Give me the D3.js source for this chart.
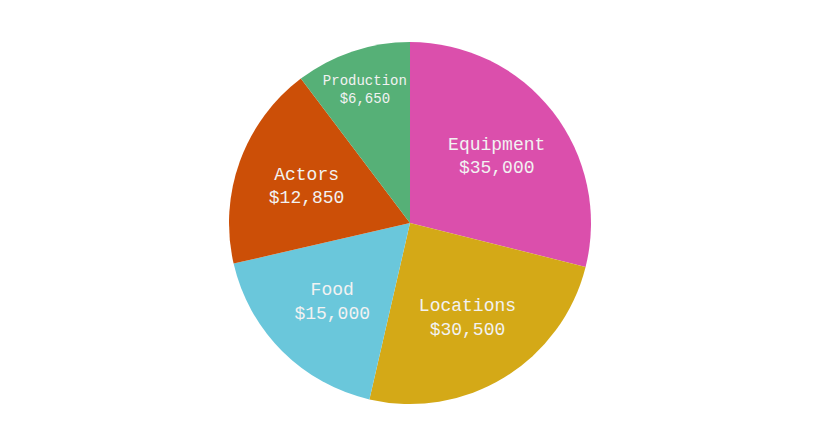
<!DOCTYPE html>
<html><head><meta charset="utf-8">
<script src="https://cdn.jsdelivr.net/npm/d3@7"></script>
<style>body{margin:0;background:#fff}</style></head>
<body><svg width="820" height="446"></svg>
<script>
const categories = ["Equipment","Locations","Food","Actors","Production"];
const amountLabels = ["$35,000","$30,500","$15,000","$12,850","$6,650"];
// slice shares as drawn in the picture (percent of circle)
const shares = [28.9, 24.7, 17.8, 18.3, 10.3];
const colors = ["#db4fac","#d4a917","#6ac7db","#cc4f07","#56b077"];

const svg = d3.select("svg");
const g = svg.append("g").attr("transform","translate(410,223)");
const R = 181;
const pie = d3.pie().sort(null).value(d=>d.v);
const data = pie(categories.map((c,i)=>({c,v:shares[i],l:amountLabels[i],col:colors[i]})));
const arc = d3.arc().innerRadius(0).outerRadius(R);
g.selectAll("path").data(data).join("path").attr("d",arc).attr("fill",d=>d.data.col);
const labels = g.selectAll("text").data(data).join("text")
  .attr("transform",(d,i)=>{
    const r = i===4?142:110;
    const a=(d.startAngle+d.endAngle)/2;
    return `translate(${r*Math.sin(a)},${-r*Math.cos(a)})`;})
  .attr("text-anchor","middle")
  .attr("fill","#f2f2f2")
  .attr("font-family","'Liberation Mono', monospace")
  .attr("font-size",(d,i)=>i===4?14:18);
labels.append("tspan").attr("x",0).attr("dy",(d,i)=>i===4?"-0.25em":"-0.3em").text(d=>d.data.c);
labels.append("tspan").attr("x",0).attr("dy","1.3em").text(d=>d.data.l);
</script></body></html>
